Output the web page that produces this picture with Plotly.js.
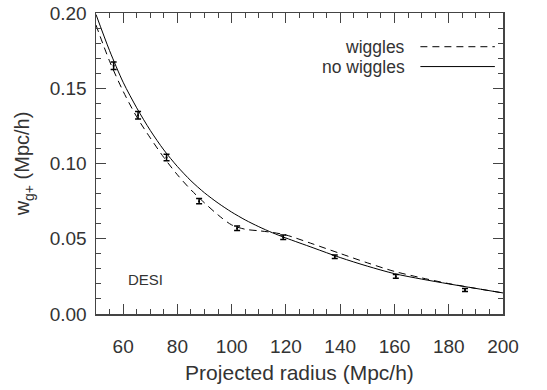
<!DOCTYPE html>
<html>
<head>
<meta charset="utf-8">
<script src="https://cdn.plot.ly/plotly-3.0.1.min.js"></script>
<style>html,body{margin:0;padding:0;background:#fff;}#chart{width:547px;height:390px;}</style>
</head>
<body>
<div id="chart"></div>
<script>
// Measured points (DESI)
const dataR = [56.5, 65.5, 76, 88, 102, 119, 138, 160.5, 186];
const dataW = [0.165, 0.132, 0.104, 0.075, 0.057, 0.051, 0.038, 0.025, 0.016];
const dataErr = [0.0025, 0.0025, 0.0022, 0.0018, 0.0015, 0.0015, 0.0012, 0.0012, 0.001];

// Model curves
const modelR = [50, 55, 60, 65, 70, 75, 80, 85, 90, 95, 100, 105, 110, 115, 120, 130, 140, 150, 160, 170, 180, 190, 200];
const noWiggles = [0.199, 0.175, 0.154, 0.137, 0.122, 0.109, 0.098, 0.0885, 0.0805, 0.0737, 0.0677, 0.0625, 0.058, 0.054, 0.0505, 0.044, 0.0375, 0.0318, 0.0268, 0.0232, 0.020, 0.017, 0.014];
const wiggles =   [0.192, 0.168, 0.148, 0.131, 0.117, 0.104, 0.0925, 0.0825, 0.0738, 0.0658, 0.0592, 0.0563, 0.0553, 0.0542, 0.0525, 0.0465, 0.0402, 0.034, 0.0283, 0.024, 0.0202, 0.017, 0.014];

const xTicks = [60, 80, 100, 120, 140, 160, 180, 200];
const yTicks = [0.00, 0.05, 0.10, 0.15, 0.20];
const yTickText = ["0.00", "0.05", "0.10", "0.15", "0.20"];

const FONT = "Liberation Sans, Arial, Helvetica, sans-serif";
const TXT = "#333";
const AX = "#444";

const traces = [
  {x: modelR, y: wiggles, mode: "lines", line: {color: "#000", width: 1, dash: "7px,5px", shape: "spline", smoothing: 0.8}, hoverinfo: "skip"},
  {x: modelR, y: noWiggles, mode: "lines", line: {color: "#000", width: 1, shape: "spline", smoothing: 0.8}, hoverinfo: "skip"},
  {x: dataR, y: dataW, mode: "markers", marker: {color: "#000", size: 2},
   error_y: {type: "data", array: dataErr, visible: true, color: "#000", thickness: 1.5, width: 3}},
  // invisible trace anchoring the mirrored (top/right) tick axes
  {x: dataR, y: dataW, xaxis: "x2", yaxis: "y2", mode: "markers", marker: {opacity: 0}, hoverinfo: "skip"}
];

const axisCommon = {
  showgrid: false, zeroline: false, showline: true, linecolor: AX, linewidth: 1.5,
  mirror: true, ticks: "inside", ticklen: 10, tickwidth: 1, tickcolor: AX,
  tickfont: {family: FONT, size: 19, color: TXT}
};
const xMinor = {dtick: 5, ticks: "inside", ticklen: 5, tickcolor: AX, tickwidth: 1};
const yMinor = {dtick: 0.01, ticks: "inside", ticklen: 5, tickcolor: AX, tickwidth: 1};

const layout = {
  width: 547, height: 390,
  margin: {l: 96, r: 44, t: 13, b: 76},
  paper_bgcolor: "#fff", plot_bgcolor: "#fff",
  showlegend: false,
  xaxis: Object.assign({}, axisCommon, {
    range: [50, 200], tickvals: xTicks, ticklabelstandoff: 15, minor: xMinor,
    title: {text: "Projected radius (Mpc/h)", font: {family: FONT, size: 21, color: TXT}, standoff: 9}
  }),
  yaxis: Object.assign({}, axisCommon, {
    range: [0, 0.20], tickvals: yTicks, ticktext: yTickText, ticklabelstandoff: 4, minor: yMinor,
    title: {text: "w<sub>g+</sub> (Mpc/h)", font: {family: FONT, size: 20, color: TXT}, standoff: 14}
  }),
  xaxis2: {overlaying: "x", side: "top", anchor: "y", range: [50, 200], tickvals: xTicks, showticklabels: false,
    showgrid: false, zeroline: false, showline: false, ticks: "inside", ticklen: 10, tickwidth: 1, tickcolor: AX, minor: xMinor},
  yaxis2: {overlaying: "y", side: "right", anchor: "x", range: [0, 0.20], tickvals: yTicks, showticklabels: false,
    showgrid: false, zeroline: false, showline: false, ticks: "inside", ticklen: 10, tickwidth: 1, tickcolor: AX, minor: yMinor},
  annotations: [
    {xref: "paper", yref: "paper", x: 0.074, y: 0.115, xanchor: "left", yanchor: "middle", showarrow: false,
     text: "DESI", font: {family: FONT, size: 15, color: TXT}},
    {xref: "paper", yref: "paper", x: 0.764, y: 0.888, xanchor: "right", yanchor: "middle", showarrow: false,
     text: "wiggles", font: {family: FONT, size: 17.5, color: TXT}},
    {xref: "paper", yref: "paper", x: 0.764, y: 0.822, xanchor: "right", yanchor: "middle", showarrow: false,
     text: "no wiggles", font: {family: FONT, size: 17.5, color: TXT}}
  ],
  shapes: [
    {type: "line", xref: "paper", yref: "paper", x0: 0.797, x1: 0.98, y0: 0.888, y1: 0.888, line: {color: "#000", width: 1, dash: "7px,5px"}},
    {type: "line", xref: "paper", yref: "paper", x0: 0.797, x1: 0.98, y0: 0.822, y1: 0.822, line: {color: "#000", width: 1}}
  ]
};

Plotly.newPlot("chart", traces, layout, {displayModeBar: false, staticPlot: true});
</script>
</body>
</html>
